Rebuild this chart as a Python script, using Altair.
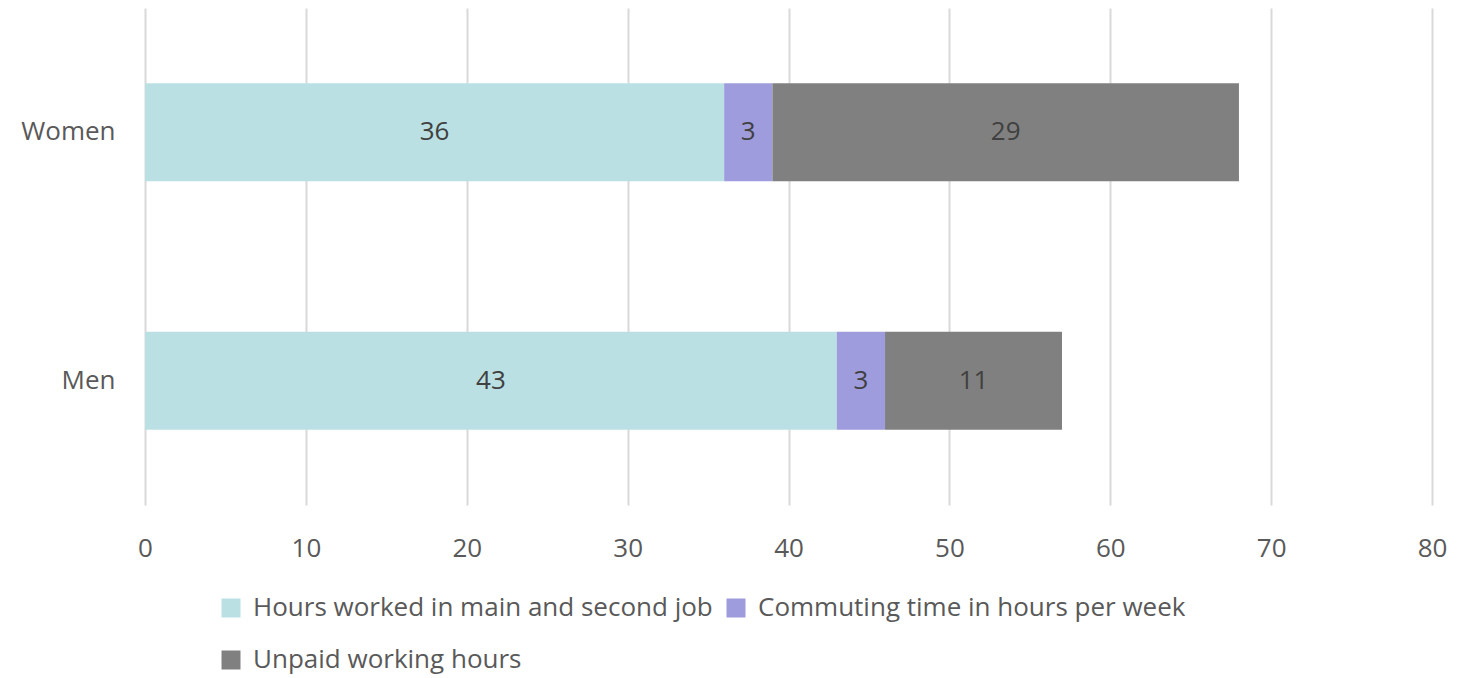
import altair as alt
import pandas as pd

groups = ["Women", "Men"]
series = ["Hours worked in main and second job", "Commuting time in hours per week", "Unpaid working hours"]
colors = ["#BBE0E3", "#9F9CDD", "#808080"]
hours_main = [36, 43]
commuting = [3, 3]
unpaid = [29, 11]

rows = []
for i, g in enumerate(groups):
    for j, (s, v) in enumerate(zip(series, [hours_main[i], commuting[i], unpaid[i]])):
        rows.append({"group": g, "series": s, "value": v, "order": j})
df = pd.DataFrame(rows)

FONT = "Open Sans"
FS = 26

yenc = alt.Y("group:N", sort=groups, title=None,
             scale=alt.Scale(paddingInner=0.606, paddingOuter=0.303),
             axis=alt.Axis(domain=False, ticks=False, grid=False, labelFontSize=FS,
                           labelColor="#595959", labelFont=FONT, labelPadding=30))

bars = alt.Chart(df).mark_bar().encode(
    y=yenc,
    x=alt.X("value:Q", stack="zero", title=None,
            scale=alt.Scale(domain=[0, 80], nice=False),
            axis=alt.Axis(values=list(range(0, 81, 10)), domain=False, ticks=False,
                          labelFontSize=FS, labelColor="#595959", labelFont=FONT,
                          labelFlush=False, labelPadding=30,
                          gridColor="#D9D9D9", gridWidth=2)),
    color=alt.Color("series:N", sort=series,
                    scale=alt.Scale(domain=series, range=colors),
                    legend=alt.Legend(title=None, orient="none", legendX=73, legendY=587,
                                      direction="horizontal", columns=2,
                                      symbolType="square", symbolSize=361,
                                      symbolStrokeWidth=0, labelFontSize=FS, labelFont=FONT,
                                      labelColor="#595959", labelOffset=9, columnPadding=10,
                                      rowPadding=26, labelLimit=1000)),
    order=alt.Order("order:Q"),
)

labels = alt.Chart(df).transform_window(
    cum="sum(value)", groupby=["group"], sort=[alt.SortField("order")]
).transform_calculate(
    mid="datum.cum - datum.value / 2"
).mark_text(fontSize=FS, font=FONT, color="#404040").encode(
    y=alt.Y("group:N", sort=groups),
    x=alt.X("mid:Q"),
    text=alt.Text("value:Q"),
)

chart = alt.layer(bars, labels).properties(
    width=1287, height=497,
    autosize=alt.AutoSizeParams(type="none"),
    padding={"left": 137, "top": 0, "right": 22, "bottom": 172},
).configure(background="white").configure_view(stroke=None)

chart.save("out.html", embed_options={"renderer": "svg", "actions": False})
